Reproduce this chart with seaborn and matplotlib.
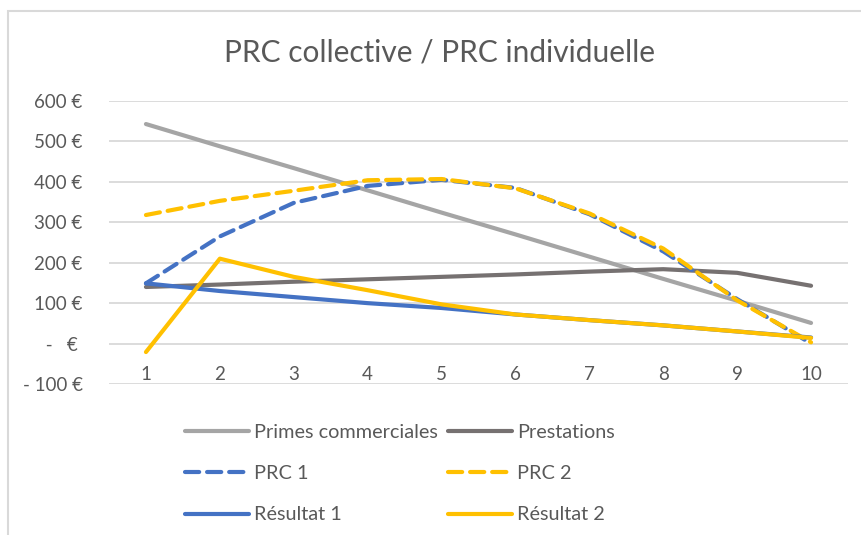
import matplotlib
matplotlib.use("Agg")
import matplotlib.pyplot as plt
import seaborn as sns
import pandas as pd
from matplotlib.patches import Rectangle
from matplotlib.ticker import FixedLocator, FixedFormatter

# ---- data ----
years = [1, 2, 3, 4, 5, 6, 7, 8, 9, 10]
primes_commerciales = [543, 488, 434, 379, 324, 270, 215, 160, 106, 51]
prestations = [140, 146, 153, 159, 165, 171, 178, 184, 175, 143]
prc_1 = [149, 265, 348, 390, 405, 385, 320, 228, 110, 0]
prc_2 = [318, 353, 378, 404, 407, 384, 322, 235, 107, 3]
resultat_1 = [149, 130, 115, 100, 88, 72, 58, 45, 30, 15]
resultat_2 = [-21, 210, 165, 132, 97, 72, 58, 45, 30, 14]
y_ticks = [-100, 0, 100, 200, 300, 400, 500, 600]
y_tick_labels = ["- 100 €", " -   € ", "100 €", "200 €", "300 €", "400 €", "500 €", "600 €"]
title = "PRC collective / PRC individuelle"

series = [
    ("Primes commerciales", primes_commerciales, "#A5A5A5", False),
    ("Prestations", prestations, "#767171", False),
    ("PRC 1", prc_1, "#4472C4", True),
    ("PRC 2", prc_2, "#FFC000", True),
    ("Résultat 1", resultat_1, "#4472C4", False),
    ("Résultat 2", resultat_2, "#FFC000", False),
]

sns.set_theme(style="white")
plt.rcParams["font.family"] = ["Lato", "DejaVu Sans"]
txt = "#595959"

fig = plt.figure(figsize=(8.62, 5.35), dpi=100)
ax = fig.add_axes([109 / 862, 1 - 384 / 535, (848 - 109) / 862, (384 - 101) / 535])

handles = {}
for name, vals, color, dashed in series:
    df = pd.DataFrame({"x": years, "y": vals})
    sns.lineplot(data=df, x="x", y="y", ax=ax, color=color, linewidth=3.0,
                 label=name, legend=False)
    ln = ax.lines[-1]
    ln.set_solid_capstyle("round")
    ln.set_solid_joinstyle("round")
    if dashed:
        ln.set_dashes((3.4, 1.9))
        ln.set_dash_capstyle("round")
    handles[name] = ln

ax.set_xlim(0.5, 10.5)
ax.set_ylim(-100, 600)
ax.yaxis.set_major_locator(FixedLocator(y_ticks))
ax.yaxis.set_major_formatter(FixedFormatter(y_tick_labels))
ax.set_xticks(years)
ax.set_xticklabels([str(v) for v in years])
ax.grid(axis="y", color="#D9D9D9", linewidth=1.3)
ax.set_axisbelow(True)
for s in ["left", "right", "top"]:
    ax.spines[s].set_visible(False)
ax.spines["bottom"].set_position(("data", 0))
ax.spines["bottom"].set_visible(False)
ax.tick_params(axis="y", length=0, pad=19, labelsize=13.5, labelcolor=txt)
ax.tick_params(axis="x", length=0, pad=16, labelsize=13.5, labelcolor=txt)
ax.set_xlabel("")
ax.set_ylabel("")

fig.text(440 / 862, 1 - 52 / 535, title, ha="center", va="center",
         fontsize=21.5, color=txt)

order = ["Primes commerciales", "PRC 1", "Résultat 1", "Prestations", "PRC 2", "Résultat 2"]
leg = fig.legend([handles[n] for n in order], order, ncol=2, frameon=False,
                 loc="upper left", bbox_to_anchor=(185 / 862, 1 - 424 / 535),
                 borderpad=0, borderaxespad=0, handlelength=3.2, handletextpad=0.25,
                 columnspacing=0.55, labelspacing=1.22, fontsize=14.3, labelcolor=txt)

fig.add_artist(Rectangle((8 / 862, -0.05), 1.0, 1 - 11 / 535 + 0.05, transform=fig.transFigure,
                         fill=False, edgecolor="#D9D9D9", linewidth=1.5))

fig.savefig("out.png", dpi=100)
